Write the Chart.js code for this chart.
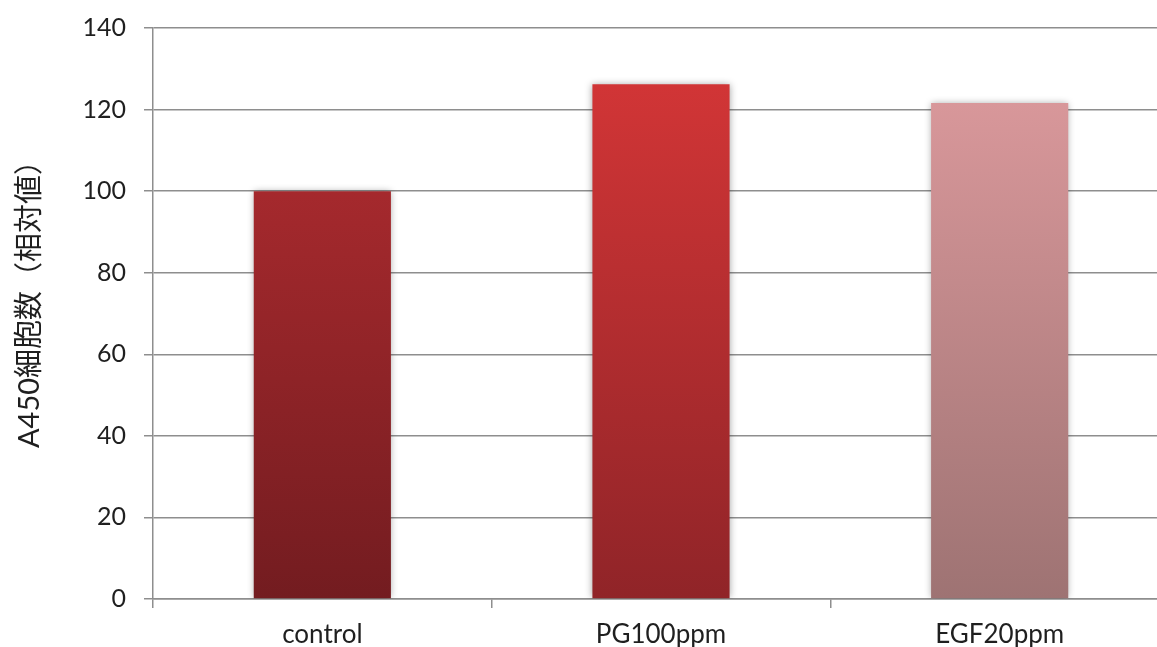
<!DOCTYPE html>
<html>
<head>
<meta charset="utf-8">
<script src="https://cdn.jsdelivr.net/npm/chart.js@4/dist/chart.umd.min.js"></script>
<style>
  html, body { margin: 0; padding: 0; background: #fff; overflow: hidden; }
  #wrap { width: 1170px; height: 647px; }
</style>
</head>
<body>
<div id="wrap"><canvas id="c" width="1170" height="647"></canvas></div>
<script>
// Data
const categories = ['control', 'PG100ppm', 'EGF20ppm'];
const values = [100, 126.2, 121.6];
const yTicks = [0, 20, 40, 60, 80, 100, 120, 140];
const yTitle = 'A450細胞数（相対値）';

// Per-bar vertical gradient colours (top, bottom)
const topColors = ['#A5292D', '#D13536', '#D8979A'];
const bottomColors = ['#731C20', '#902428', '#9E7373'];

const FONT = "Lato, 'Noto Sans CJK JP', sans-serif";
const TEXT = '#1f1f1f';
const GRID = '#8e8e8e';

function barGradient(ctx) {
  const chart = ctx.chart;
  const i = ctx.dataIndex;
  if (!chart.chartArea || i === undefined) return topColors[i] || topColors[0];
  const y = chart.scales.y;
  const top = y.getPixelForValue(values[i]);
  const base = y.getPixelForValue(0);
  const g = chart.ctx.createLinearGradient(0, top, 0, base);
  g.addColorStop(0, topColors[i]);
  g.addColorStop(1, bottomColors[i]);
  return g;
}

// Soft shadow round the bars
const barShadow = {
  id: 'barShadow',
  beforeDatasetsDraw(chart) {
    const c = chart.ctx;
    c.save();
    c.shadowColor = 'rgba(0,0,0,0.35)';
    c.shadowBlur = 7;
    c.shadowOffsetX = 0;
    c.shadowOffsetY = 0;
  },
  afterDatasetsDraw(chart) {
    chart.ctx.restore();
  }
};

// Vertical y-axis title, drawn a little above the plot's middle
const yAxisTitle = {
  id: 'yAxisTitle',
  afterDraw(chart) {
    const c = chart.ctx;
    c.save();
    c.translate(30, 297);
    c.rotate(-Math.PI / 2);
    c.font = "29px " + FONT;
    c.fillStyle = TEXT;
    c.textAlign = 'center';
    c.textBaseline = 'middle';
    c.fillText(yTitle, 0, 0);
    c.restore();
  }
};

new Chart(document.getElementById('c'), {
  type: 'bar',
  data: {
    labels: categories,
    datasets: [{
      data: values,
      backgroundColor: barGradient,
      borderWidth: 0,
      categoryPercentage: 1,
      barPercentage: 0.405
    }]
  },
  plugins: [barShadow, yAxisTitle],
  options: {
    responsive: false,
    animation: false,
    devicePixelRatio: 1,
    layout: { padding: { top: 28, right: 1, bottom: 0, left: 0 } },
    plugins: { legend: { display: false }, tooltip: { enabled: false } },
    scales: {
      x: {
        grid: {
          offset: true,
          drawOnChartArea: false,
          drawTicks: true,
          tickLength: 9,
          color: GRID,
          lineWidth: 1.5
        },
        border: { color: GRID, width: 1.5 },
        ticks: {
          color: TEXT,
          font: { family: FONT, size: 26 },
          padding: 11,
          maxRotation: 0
        },
        afterFit(scale) { scale.height = 48; }
      },
      y: {
        min: 0,
        max: 140,
        afterBuildTicks(scale) { scale.ticks = yTicks.map(v => ({ value: v })); },
        grid: {
          color: GRID,
          lineWidth: 1.5,
          drawTicks: true,
          tickLength: 9
        },
        border: { color: GRID, width: 1.5 },
        ticks: {
          color: TEXT,
          font: { family: FONT, size: 25 },
          padding: 18
        },
        afterFit(scale) {
          scale.width = 153;
          scale.paddingTop = 0;
          scale.paddingBottom = 0;
        }
      }
    }
  }
});
</script>
</body>
</html>
